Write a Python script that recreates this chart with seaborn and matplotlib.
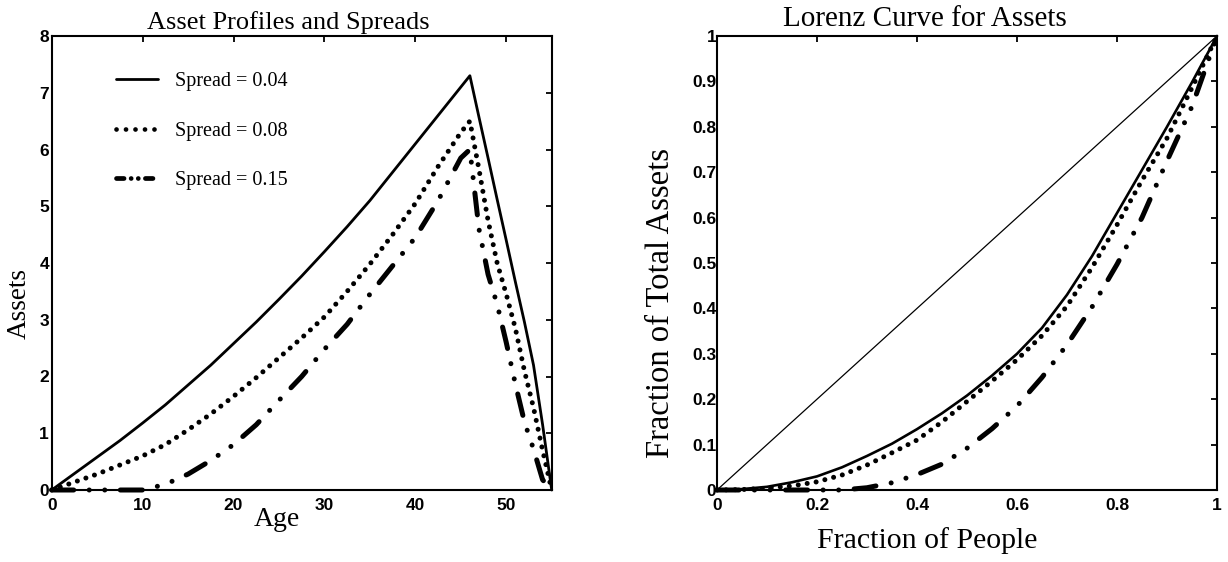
import matplotlib
matplotlib.use("Agg")
import matplotlib.pyplot as plt
from matplotlib.lines import Line2D
import seaborn as sns

# ---------------- data: left panel (asset profiles by age) ----------------
ages = [0, 2.5, 5, 7.5, 10, 12.5, 15, 17.5, 20, 22.5, 25, 27.5, 30, 32.5, 35,
        37.5, 40, 42.5, 45, 46, 47, 48, 49, 50, 51, 52, 53, 54, 55]
assets_spread_004 = [0, 0.29, 0.58, 0.87, 1.18, 1.5, 1.85, 2.2, 2.58, 2.96, 3.36,
                     3.77, 4.2, 4.64, 5.1, 5.6, 6.1, 6.6, 7.1, 7.3, 6.57, 5.85,
                     5.12, 4.4, 3.67, 2.96, 2.2, 1.15, 0]
assets_spread_008 = [0, 0.14, 0.28, 0.44, 0.6, 0.8, 1.06, 1.34, 1.65, 1.98, 2.33,
                     2.68, 3.05, 3.5, 3.98, 4.5, 5.05, 5.7, 6.3, 6.5, 5.65, 4.75,
                     4.0, 3.45, 2.85, 2.1, 1.45, 0.7, 0]
assets_spread_015 = [0, 0, 0, 0, 0, 0.1, 0.28, 0.52, 0.8, 1.15, 1.58, 2.0, 2.48,
                     2.92, 3.45, 3.95, 4.45, 5.1, 5.85, 6.0, 4.6, 3.8, 3.27, 2.6,
                     1.87, 1.2, 0.72, 0.18, 0]
spread_labels = ["Spread = 0.04", "Spread = 0.08", "Spread = 0.15"]

# ---------------- data: right panel (Lorenz curves) ----------------
people_frac = [0, 0.05, 0.1, 0.15, 0.2, 0.25, 0.3, 0.35, 0.4, 0.45, 0.5, 0.55,
               0.6, 0.65, 0.7, 0.75, 0.8, 0.85, 0.9, 0.95, 1.0]
lorenz_spread_004 = [0, 0.002, 0.007, 0.017, 0.03, 0.05, 0.075, 0.102, 0.134,
                     0.169, 0.208, 0.252, 0.30, 0.357, 0.43, 0.515, 0.61, 0.705,
                     0.80, 0.898, 1.0]
lorenz_spread_008 = [0, 0.001, 0.004, 0.009, 0.018, 0.033, 0.055, 0.082, 0.11,
                     0.15, 0.195, 0.24, 0.287, 0.34, 0.405, 0.49, 0.584, 0.682,
                     0.775, 0.886, 1.0]
lorenz_spread_015 = [0, 0, 0, 0, 0, 0, 0.005, 0.016, 0.034, 0.057, 0.092, 0.135,
                     0.185, 0.248, 0.32, 0.403, 0.497, 0.60, 0.725, 0.845, 1.0]
equality_x = [0, 1]
equality_y = [0, 1]

left_xticks = [0, 10, 20, 30, 40, 50]
left_xticklabels = ["0", "10", "20", "30", "40", "50"]
left_yticks = [0, 1, 2, 3, 4, 5, 6, 7, 8]
left_yticklabels = ["0", "1", "2", "3", "4", "5", "6", "7", "8"]
right_xticks = [0, 0.2, 0.4, 0.6, 0.8, 1.0]
right_xticklabels = ["0", "0.2", "0.4", "0.6", "0.8", "1"]
right_yticks = [0, 0.1, 0.2, 0.3, 0.4, 0.5, 0.6, 0.7, 0.8, 0.9, 1.0]
right_yticklabels = ["0", "0.1", "0.2", "0.3", "0.4", "0.5", "0.6", "0.7",
                     "0.8", "0.9", "1"]

# ---------------- style ----------------
sns.set_style("white")
plt.rcParams["font.family"] = ["Liberation Serif", "DejaVu Serif"]
plt.rcParams["axes.linewidth"] = 1.5
plt.rcParams["axes.edgecolor"] = "black"
plt.rcParams["text.color"] = "black"
plt.rcParams["axes.labelcolor"] = "black"
plt.rcParams["xtick.color"] = "black"
plt.rcParams["ytick.color"] = "black"

SERIF = ["Liberation Serif", "DejaVu Serif"]
SANS = ["Liberation Sans", "DejaVu Sans"]

solid_style = dict(color="black", lw=2.0, linestyle="-")
dot_style = dict(color="black", lw=3.6, linestyle=(0, (0.01, 1.8)),
                 dash_capstyle="round")
dashdot_style = dict(color="black", lw=3.6,
                     linestyle=(0, (4.4, 3.1, 0.01, 3.1, 0.01, 3.1)),
                     dash_capstyle="round")

W, H = 1228, 562
fig = plt.figure(figsize=(W / 100, H / 100), dpi=100)
axL = fig.add_axes([51.7 / W, 72 / H, 500 / W, 454 / H])
axR = fig.add_axes([717 / W, 72 / H, 500 / W, 454 / H])

# ---------------- left panel ----------------
for yvals, sty in zip([assets_spread_004, assets_spread_008, assets_spread_015],
                      [solid_style, dot_style, dashdot_style]):
    sns.lineplot(x=ages, y=yvals, ax=axL, sort=False, errorbar=None,
                 clip_on=False, **sty)

axL.set_xlim(0, 55)
axL.set_ylim(0, 8)
axL.set_xticks(left_xticks, left_xticklabels, fontfamily=SANS,
               fontweight="bold", fontsize=12.5)
axL.set_yticks(left_yticks, left_yticklabels, fontfamily=SANS,
               fontweight="bold", fontsize=12.5)
axL.tick_params(direction="in", length=4, width=1.3, top=True, right=True)
axL.tick_params(axis="x", pad=6)
axL.tick_params(axis="y", pad=2)
axL.set_xlabel("")
axL.set_ylabel("")

legend_handles = [
    Line2D([], [], color="black", lw=2.0, linestyle="-"),
    Line2D([], [], color="black", lw=3.4, linestyle=(0, (0.01, 2.0)),
           dash_capstyle="round"),
    Line2D([], [], color="black", lw=3.4,
           linestyle=(0, (1.6, 1.5, 0.01, 1.5, 0.01, 1.5)),
           dash_capstyle="round"),
]
axL.legend(legend_handles, spread_labels, loc="upper left",
           bbox_to_anchor=(0.128, 0.92), frameon=False, handlelength=2.1,
           handletextpad=0.85, labelspacing=1.5, borderpad=0, borderaxespad=0,
           prop={"family": SERIF, "size": 14.5})

axL.text(0.473, 1.016, "Asset Profiles and Spreads", transform=axL.transAxes,
         ha="center", va="baseline", fontsize=19, fontfamily=SERIF)
axL.text(0.45, -0.079, "Age", transform=axL.transAxes, ha="center",
         va="baseline", fontsize=20, fontfamily=SERIF)
axL.text(-0.065, 0.41, "Assets", transform=axL.transAxes, rotation=90,
         ha="center", va="center", fontsize=19.5, fontfamily=SERIF)

# ---------------- right panel ----------------
sns.lineplot(x=equality_x, y=equality_y, ax=axR, color="black", lw=0.9,
             errorbar=None, clip_on=False)
for yvals, sty in zip([lorenz_spread_004, lorenz_spread_008, lorenz_spread_015],
                      [dict(solid_style, lw=1.9), dot_style, dashdot_style]):
    sns.lineplot(x=people_frac, y=yvals, ax=axR, sort=False, errorbar=None,
                 clip_on=False, **sty)

axR.set_xlim(0, 1)
axR.set_ylim(0, 1)
axR.set_xticks(right_xticks, right_xticklabels, fontfamily=SANS,
               fontweight="bold", fontsize=12.5)
axR.set_yticks(right_yticks, right_yticklabels, fontfamily=SANS,
               fontweight="bold", fontsize=12.5)
axR.tick_params(direction="in", length=4, width=1.3, top=True, right=True)
axR.tick_params(axis="x", pad=6)
axR.tick_params(axis="y", pad=0.5)
axR.set_xlabel("")
axR.set_ylabel("")

axR.text(0.416, 1.022, "Lorenz Curve for Assets", transform=axR.transAxes,
         ha="center", va="baseline", fontsize=21, fontfamily=SERIF)
axR.text(0.42, -0.128, "Fraction of People", transform=axR.transAxes,
         ha="center", va="baseline", fontsize=21.5, fontfamily=SERIF)
axR.text(-0.112, 0.412, "Fraction of Total Assets", transform=axR.transAxes,
         rotation=90, ha="center", va="center", fontsize=23.5, fontfamily=SERIF)

for ax in (axL, axR):
    for sp in ax.spines.values():
        sp.set_visible(True)
        sp.set_color("black")
        sp.set_linewidth(1.5)

fig.savefig("out.png", dpi=100, facecolor="white")
